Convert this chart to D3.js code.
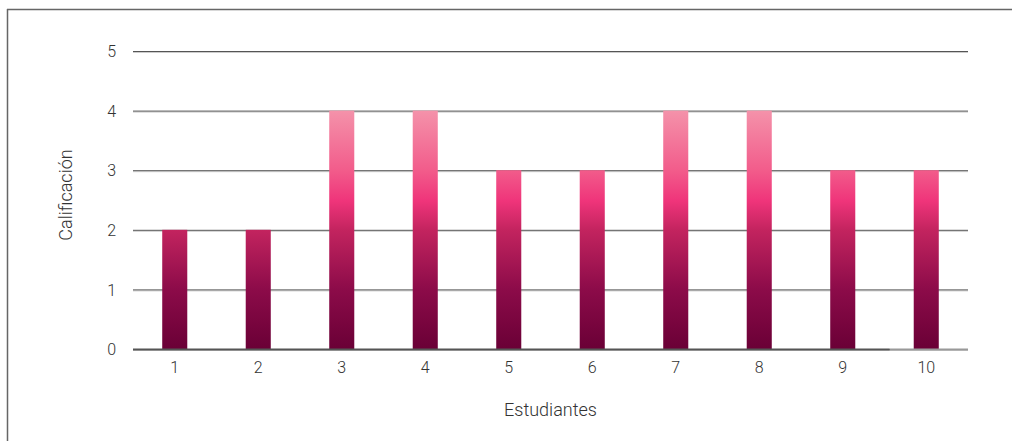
<!DOCTYPE html>
<html>
<head>
<meta charset="utf-8">
<script src="https://cdn.jsdelivr.net/npm/d3@7"></script>
<style>
  html, body { margin: 0; background: #fff; overflow: hidden; }
  svg { display: block; }
  svg text { font-family: Roboto, "Open Sans", sans-serif; font-weight: 300; fill: #333; }
</style>
</head>
<body>
<div id="chart"></div>
<script>
// data
var estudiantes = ['1', '2', '3', '4', '5', '6', '7', '8', '9', '10'];
var calificaciones = [2, 2, 4, 4, 3, 3, 4, 4, 3, 3];
var yTicks = [0, 1, 2, 3, 4, 5];

var W = 1012, H = 441;
var margin = { top: 51, right: 44, bottom: 92, left: 133 };

var svg = d3.select('#chart').append('svg')
  .attr('width', W).attr('height', H);

// frame: only the top and left edges are in view
svg.append('line').attr('x1', 7.5).attr('x2', 7.5).attr('y1', 9).attr('y2', H)
  .attr('stroke', '#666').attr('stroke-width', 1.5);
svg.append('line').attr('x1', 7).attr('x2', W).attr('y1', 9.5).attr('y2', 9.5)
  .attr('stroke', '#666').attr('stroke-width', 1.5);

var x = d3.scaleBand().domain(estudiantes)
  .range([margin.left, W - margin.right]).paddingInner(0.7).paddingOuter(0.35);
var y = d3.scaleLinear().domain([0, 5]).range([H - margin.bottom, margin.top]);

// gradient fixed to the plot, not to each bar
var grad = svg.append('defs').append('linearGradient')
  .attr('id', 'barGrad').attr('gradientUnits', 'userSpaceOnUse')
  .attr('x1', 0).attr('x2', 0).attr('y1', y(0)).attr('y2', y(4));
var stops = [[0, '#6a0036'], [0.25, '#8c0b49'], [0.5, '#c3245f'], [0.62, '#ef347a'], [0.75, '#f25c8b'], [1, '#f492aa']];
grad.selectAll('stop').data(stops).enter().append('stop')
  .attr('offset', function(d) { return d[0]; })
  .attr('stop-color', function(d) { return d[1]; });

// gridlines
var grid = svg.append('g').selectAll('g').data(yTicks).enter().append('g');
grid.append('line')
  .attr('x1', margin.left).attr('x2', W - margin.right)
  .attr('y1', function(d) { return y(d) + 1.5; }).attr('y2', function(d) { return y(d) + 1.5; })
  .attr('stroke', '#ccc').attr('stroke-width', 1);
grid.append('line')
  .attr('x1', margin.left).attr('x2', W - margin.right)
  .attr('y1', function(d) { return y(d) + 0.5; }).attr('y2', function(d) { return y(d) + 0.5; })
  .attr('stroke', '#555').attr('stroke-width', 1);

// bars
svg.append('g').selectAll('rect').data(calificaciones).enter().append('rect')
  .attr('x', function(d, i) { return x(estudiantes[i]); })
  .attr('width', x.bandwidth())
  .attr('y', function(d) { return y(d); })
  .attr('height', function(d) { return y(0) - y(d); })
  .attr('fill', 'url(#barGrad)');

// baseline: dark up to the last-but-one band, lighter after it
var cut = x('10') - 24;
svg.append('line')
  .attr('x1', margin.left).attr('x2', cut)
  .attr('y1', y(0) + 0.5).attr('y2', y(0) + 0.5)
  .attr('stroke', '#555').attr('stroke-width', 2);
svg.append('line')
  .attr('x1', cut).attr('x2', W - margin.right)
  .attr('y1', y(0) + 0.5).attr('y2', y(0) + 0.5)
  .attr('stroke', '#999').attr('stroke-width', 2);

// axes
var yAxis = svg.append('g').attr('transform', 'translate(' + margin.left + ',0)')
  .call(d3.axisLeft(y).tickValues(yTicks).tickFormat(d3.format('d')).tickSize(0).tickPadding(17));
yAxis.select('.domain').remove();
yAxis.selectAll('text').style('font-size', '16px').style('fill', '#333').attr('dy', '0.35em');

var xAxis = svg.append('g').attr('transform', 'translate(0,' + y(0) + ')')
  .call(d3.axisBottom(x).tickSize(0).tickPadding(13));
xAxis.select('.domain').remove();
xAxis.selectAll('text').style('font-size', '16px').style('fill', '#333');

// axis titles
svg.append('text')
  .attr('x', (margin.left + W - margin.right) / 2).attr('y', 416)
  .attr('text-anchor', 'middle').style('font-size', '18px')
  .text('Estudiantes');
svg.append('text')
  .attr('transform', 'translate(72,' + (y(2.5) - 5) + ') rotate(-90)')
  .attr('text-anchor', 'middle').style('font-size', '18px')
  .text('Calificación');
</script>
</body>
</html>
